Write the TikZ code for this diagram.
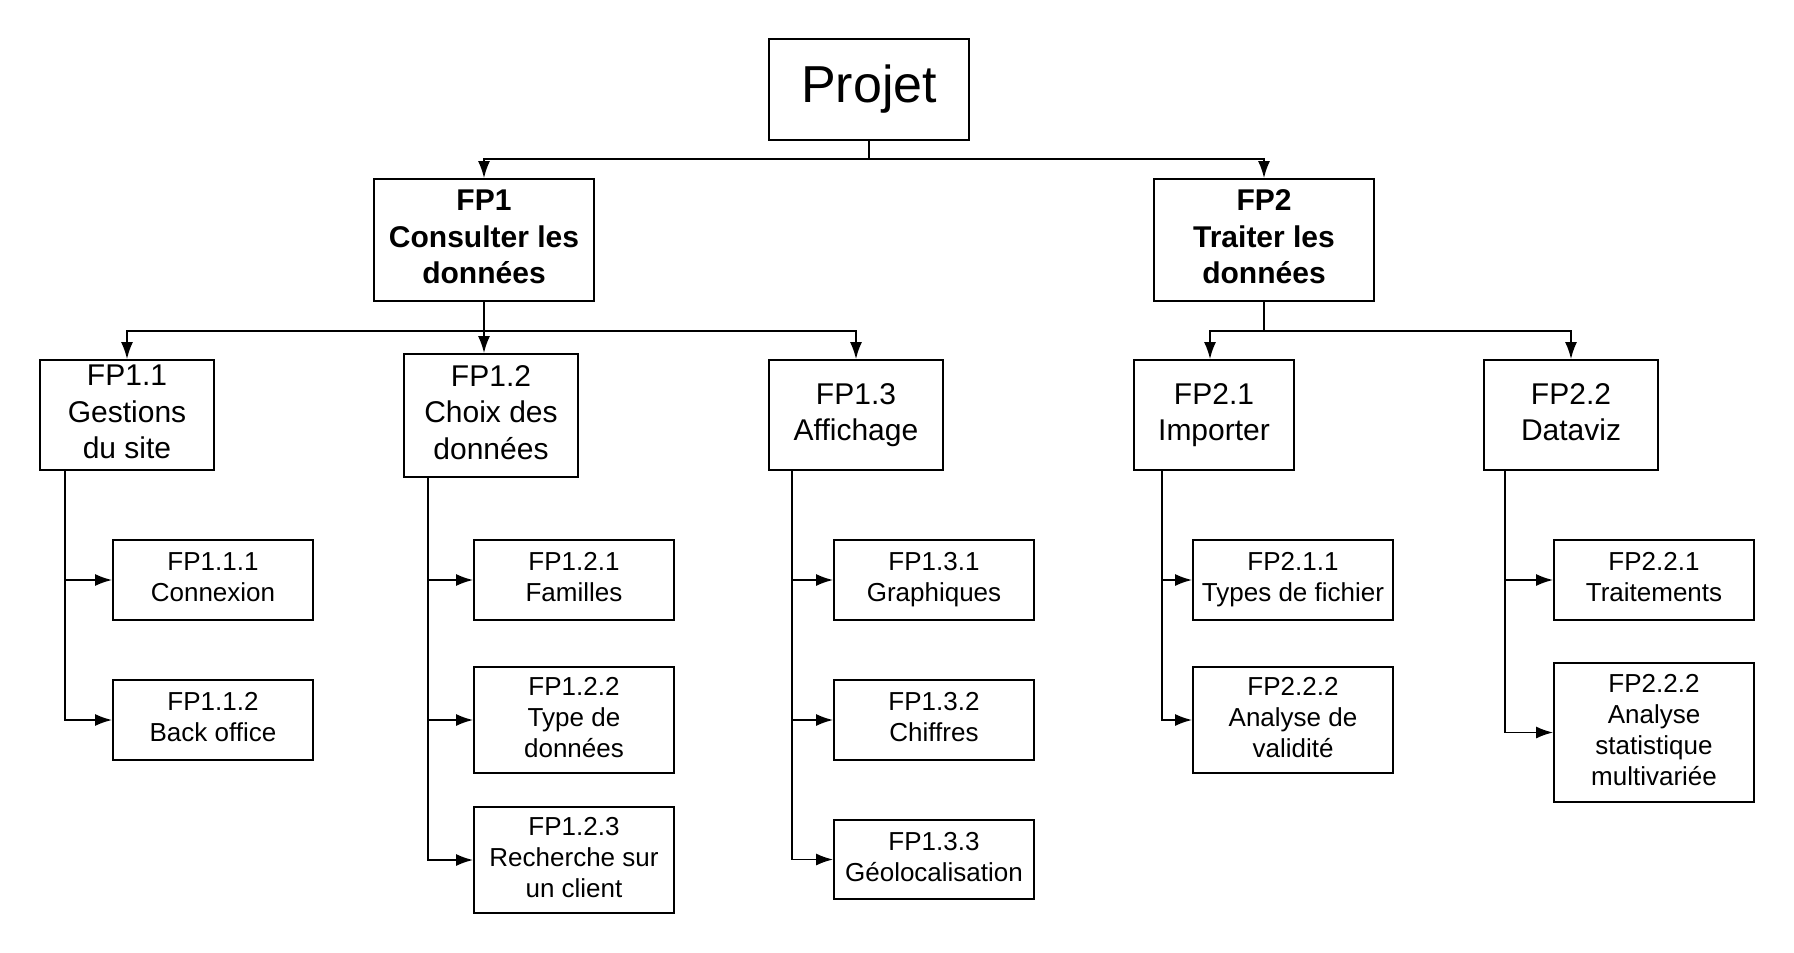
\documentclass[tikz,border=0pt]{standalone}
\usepackage{fontspec}
\setmainfont{Liberation Sans}
\usepackage{tikz}
\usetikzlibrary{arrows.meta,positioning}
\tikzstyle{box} = [draw,line width=0.9pt,align=center,inner sep=0pt,execute at end node={\vphantom{g}}]
\tikzstyle{root} = [box,minimum width=100pt,minimum height=50.5pt,font=\fontsize{26pt}{31pt}\selectfont]
\tikzstyle{fp} = [box,minimum width=110pt,minimum height=61pt,font=\bfseries\fontsize{15pt}{18.3pt}\selectfont]
\tikzstyle{fpsub} = [box,minimum width=87pt,minimum height=55pt,font=\fontsize{15pt}{18.3pt}\selectfont]
\tikzstyle{leaf} = [box,minimum width=100pt,minimum height=40pt,font=\fontsize{13pt}{15.5pt}\selectfont]
\tikzset{>={Latex[length=8.5pt,width=6pt]}}

\begin{document}
\begin{tikzpicture}[x=0.5pt,y=-0.5pt,line width=0.9pt]
    \useasboundingbox (0,0) rectangle (1794,953);

    \node [root] (projet) at (869,89.5) {Projet};

    \node [fp] (fp1) at (484,240) {FP1\\Consulter les\\données};
    \node [fp] (fp2) at (1264,240) {FP2\\Traiter les\\données};

    \node [fpsub] (fp11) at (127,415) {FP1.1\\Gestions\\du site};
    \node [fpsub,minimum height=61.5pt] (fp12) at (491,415.5) {FP1.2\\Choix des\\données};
    \node [fpsub] (fp13) at (856,415) {FP1.3\\Affichage};
    \node [fpsub,minimum width=80pt] (fp21) at (1214,415) {FP2.1\\Importer};
    \node [fpsub] (fp22) at (1571,415) {FP2.2\\Dataviz};

    \node [leaf] (fp111) at (213,580) {FP1.1.1\\Connexion};
    \node [leaf] (fp112) at (213,720) {FP1.1.2\\Back office};

    \node [leaf] (fp121) at (574,580) {FP1.2.1\\Familles};
    \node [leaf,minimum height=53pt] (fp122) at (574,720) {FP1.2.2\\Type de\\données};
    \node [leaf,minimum height=53pt] (fp123) at (574,860) {FP1.2.3\\Recherche sur\\un client};

    \node [leaf] (fp131) at (934,580) {FP1.3.1\\Graphiques};
    \node [leaf] (fp132) at (934,720) {FP1.3.2\\Chiffres};
    \node [leaf,minimum height=39.5pt] (fp133) at (934,859.5) {FP1.3.3\\Géolocalisation};

    \node [leaf] (fp211) at (1293,580) {FP2.1.1\\Types de fichier};
    \node [leaf,minimum height=53pt] (fp212) at (1293,720) {FP2.2.2\\Analyse de\\validité};

    \node [leaf] (fp221) at (1654,580) {FP2.2.1\\Traitements};
    \node [leaf,minimum height=69.5pt] (fp222) at (1654,732.5) {FP2.2.2\\Analyse\\statistique\\multivariée};

    % level 1
    \coordinate (b0) at (869,159);
    \draw (projet) -- (b0);
    \draw [->] (b0) -| (fp1);
    \draw [->] (b0) -| (fp2);

    % level 2
    \coordinate (b1) at (484,331);
    \draw (fp1) -- (b1);
    \draw [->] (b1) -| (fp11);
    \draw [->] (b1) -- (b1 |- fp12.north);
    \draw [->] (b1) -| (fp13);

    \coordinate (b2) at (1264,331);
    \coordinate (a21) at (1210,331);
    \draw (fp2) -- (b2);
    \draw [->] (b2) -- (a21) -- (a21 |- fp21.north);
    \draw [->] (b2) -| (fp22);

    % level 3
    \coordinate (t11) at (65,470);
    \draw [->] (t11) |- (fp111);
    \draw [->] (t11) |- (fp112);

    \coordinate (t12) at (428,477);
    \draw [->] (t12) |- (fp121);
    \draw [->] (t12) |- (fp122);
    \draw [->] (t12) |- (fp123);

    \coordinate (t13) at (792,470);
    \draw [->] (t13) |- (fp131);
    \draw [->] (t13) |- (fp132);
    \draw [->] (t13) |- (fp133);

    \coordinate (t21) at (1162,470);
    \draw [->] (t21) |- (fp211);
    \draw [->] (t21) |- (fp212);

    \coordinate (t22) at (1505,470);
    \draw [->] (t22) |- (fp221);
    \draw [->] (t22) |- (fp222);
\end{tikzpicture}
\end{document}
